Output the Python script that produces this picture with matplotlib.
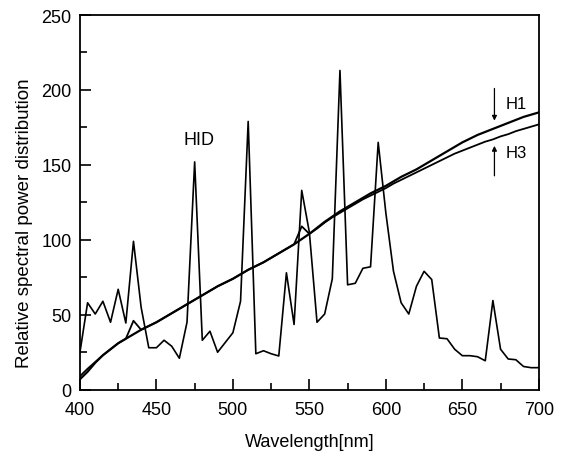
import matplotlib
matplotlib.use("Agg")
import matplotlib.pyplot as plt
from matplotlib.ticker import MultipleLocator

plt.rcParams['font.family'] = ['Liberation Sans', 'DejaVu Sans']

# HID spectrum (5 nm steps)
hid_wl = list(range(400, 701, 5))
hid_val = [25, 58, 50.5, 59, 45, 67, 44.5, 99, 55, 28,
           28, 33, 29, 21, 45, 152, 33, 39, 25, 31.5,
           38, 59, 179, 24, 26, 24, 22.5, 78, 43.5, 133,
           105, 45, 50.5, 74, 213, 70, 71, 81, 82, 165,
           118, 79, 58, 50.5, 69, 79, 73.5, 34.5, 34, 27,
           22.7, 22.7, 22, 19.3, 59.5, 27, 20.5, 20, 15.5, 14.7,
           14.7]

# Smooth spectra H1 and H3 (5 nm steps)
h_wl = list(range(400, 701, 5))
h1_val = [7, 12, 18, 23, 27, 31, 34, 37, 40, 42.5,
          45, 48, 51, 54, 57, 60, 63, 66, 69, 71.5,
          74, 77, 80, 82.5, 85, 88, 91, 94, 97, 100.5,
          104, 108, 112, 115.5, 119, 122, 125, 128, 131, 133.5,
          136, 139, 142, 144.5, 147, 150, 153, 156, 159, 162,
          165, 167.5, 170, 172, 174, 176, 178, 180, 182, 183.5,
          185]
h3_val = [9, 14, 18.5, 23, 27, 31, 34, 46, 40, 42.5,
          45, 48, 51, 54, 57, 60, 63, 66, 69, 71.5,
          74, 77, 80, 82.5, 85, 88, 91, 94, 97, 109,
          104, 107.5, 111.5, 115, 118, 121, 124, 127, 129.5, 132,
          134.5, 137.5, 140, 142.5, 145, 147.5, 150, 152.5, 155, 157.5,
          159.5, 161.5, 163.5, 165.5, 167, 169, 170.5, 172.5, 174, 175.5,
          177]

fig = plt.figure(figsize=(5.63, 4.52), dpi=100)
ax = fig.add_axes([0.142, 0.1356, 0.815, 0.829])

ax.plot(hid_wl, hid_val, color='black', lw=1.2)
ax.plot(h_wl, h1_val, color='black', lw=1.6)
ax.plot(h_wl, h3_val, color='black', lw=1.3)

ax.set_xlim(400, 700)
ax.set_ylim(0, 250)
ax.xaxis.set_major_locator(MultipleLocator(50))
ax.xaxis.set_minor_locator(MultipleLocator(25))
ax.yaxis.set_major_locator(MultipleLocator(50))
ax.yaxis.set_minor_locator(MultipleLocator(25))
ax.tick_params(which='both', direction='in', top=False, right=False,
               labelsize=13, width=1.2)
ax.tick_params(which='major', length=8)
ax.tick_params(axis='x', which='major', pad=8)
ax.tick_params(axis='y', which='major', pad=6)
ax.tick_params(which='minor', length=5)
for s in ax.spines.values():
    s.set_linewidth(1.3)

ax.set_xlabel('Wavelength[nm]', fontsize=13, labelpad=11)
ax.set_ylabel('Relative spectral power distribution', fontsize=13.5, va='center')
ax.yaxis.set_label_coords(-0.12, 0.447)

ax.text(477.8, 167, 'HID', fontsize=13, ha='center', va='center')
ax.text(678, 191, 'H1', fontsize=12, ha='left', va='center')
ax.text(678, 158, 'H3', fontsize=12, ha='left', va='center')
ax.annotate('', xy=(671, 179.5), xytext=(671, 201),
            arrowprops=dict(arrowstyle='-|>', color='black', lw=0.9,
                            mutation_scale=7, shrinkA=0, shrinkB=0))
ax.annotate('', xy=(671, 162.7), xytext=(671, 142.7),
            arrowprops=dict(arrowstyle='-|>', color='black', lw=0.9,
                            mutation_scale=7, shrinkA=0, shrinkB=0))

fig.savefig('out.png', dpi=100)
